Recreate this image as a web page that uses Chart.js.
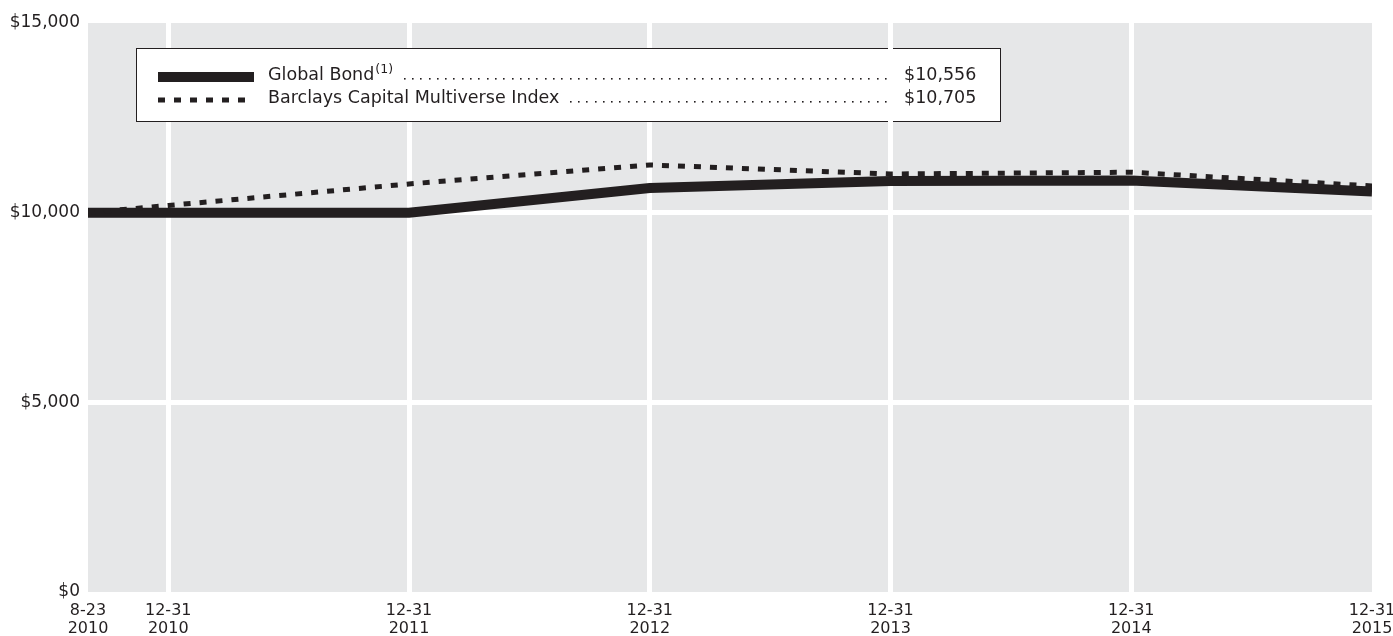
<!DOCTYPE html>
<html>
<head>
<meta charset="utf-8">
<script src="https://cdn.jsdelivr.net/npm/chart.js@4/dist/chart.umd.min.js"></script>
<style>
  html, body { margin: 0; padding: 0; background: #fff; }
  #wrap { width: 1393px; height: 636px; }
</style>
</head>
<body>
<div id="wrap"><canvas id="growth" width="1393" height="636"></canvas></div>
<script>
// x positions are months counted from August 2010
const monthOffsets = [0, 4, 16, 28, 40, 52, 64];
const tickLabels = [
  ["8-23", "2010"],
  ["12-31", "2010"],
  ["12-31", "2011"],
  ["12-31", "2012"],
  ["12-31", "2013"],
  ["12-31", "2014"],
  ["12-31", "2015"],
];

// growth of a $10,000 investment
const globalBond = [10000, 10000, 10000, 10651, 10835, 10845, 10556];
const barclaysMultiverse = [10000, 10190, 10757, 11258, 11020, 11065, 10705];

const seriesNames = ["Global Bond", "Barclays Capital Multiverse Index"];
const yTicks = [0, 5000, 10000, 15000];

const INK = "#231f20";
const PLOT_BG = "#e6e7e8";
const FONT = "DejaVu Sans";

const money = (v) => "$" + Number(v).toLocaleString("en-US");
const points = (values) => values.map((y, i) => ({ x: monthOffsets[i], y }));

// hide the grid lines that sit on the plot edges
const innerGrid = (last) => (ctx) =>
  ctx.index === 0 || ctx.index === last ? "rgba(0,0,0,0)" : "#ffffff";

const plotBackground = {
  id: "plotBackground",
  beforeDraw(chart) {
    const { ctx, chartArea: a } = chart;
    ctx.save();
    ctx.fillStyle = PLOT_BG;
    ctx.fillRect(a.left, a.top, a.right - a.left, a.bottom - a.top);
    ctx.restore();
  },
};

// boxed key with dot leaders and ending values
const valueKey = {
  id: "valueKey",
  afterDraw(chart) {
    const ctx = chart.ctx;
    const box = { left: 136.5, top: 48.5, right: 1000.5, bottom: 121.5 };
    const rows = [
      { name: seriesNames[0], sup: "(1)", values: globalBond, width: 10, dash: [], lineY: 77, baseY: 80 },
      { name: seriesNames[1], sup: "", values: barclaysMultiverse, width: 5, dash: [7, 9], lineY: 100, baseY: 103 },
    ];

    ctx.save();
    ctx.fillStyle = "#ffffff";
    ctx.fillRect(box.left, box.top, box.right - box.left, box.bottom - box.top);
    ctx.strokeStyle = INK;
    ctx.lineWidth = 1;
    ctx.strokeRect(box.left, box.top, box.right - box.left, box.bottom - box.top);

    rows.forEach((r) => {
      // sample line
      ctx.strokeStyle = INK;
      ctx.lineWidth = r.width;
      ctx.lineCap = "butt";
      ctx.setLineDash(r.dash);
      ctx.beginPath();
      ctx.moveTo(158, r.lineY);
      ctx.lineTo(254, r.lineY);
      ctx.stroke();
      ctx.setLineDash([]);

      // name
      ctx.fillStyle = INK;
      ctx.textBaseline = "alphabetic";
      ctx.textAlign = "left";
      ctx.font = `17.5px "${FONT}"`;
      ctx.fillText(r.name, 268, r.baseY);
      let end = 268 + ctx.measureText(r.name).width;
      if (r.sup) {
        ctx.font = `12.5px "${FONT}"`;
        ctx.fillText(r.sup, end + 1, r.baseY - 7);
        end += 1 + ctx.measureText(r.sup).width;
      }

      // dot leaders, spaced back from the value column
      for (let x = 886; x > end + 5; x -= 8.3) {
        ctx.fillRect(Math.round(x) - 1, r.baseY - 2, 1.6, 1.6);
      }

      // ending value
      ctx.font = `17.5px "${FONT}"`;
      ctx.fillText(money(r.values[r.values.length - 1]), 904, r.baseY);
    });

    // the 2013 grid line runs across the key
    const gx = chart.scales.x.getPixelForValue(monthOffsets[4]);
    ctx.strokeStyle = "#ffffff";
    ctx.lineWidth = 5;
    ctx.beginPath();
    ctx.moveTo(gx, box.top - 1);
    ctx.lineTo(gx, box.bottom + 1);
    ctx.stroke();
    ctx.restore();
  },
};

new Chart(document.getElementById("growth"), {
  type: "line",
  data: {
    datasets: [
      {
        label: seriesNames[1],
        data: points(barclaysMultiverse),
        borderColor: INK,
        borderWidth: 5,
        borderDash: [7, 9],
        pointRadius: 0,
        tension: 0,
      },
      {
        label: seriesNames[0],
        data: points(globalBond),
        borderColor: INK,
        borderWidth: 10,
        pointRadius: 0,
        tension: 0,
      },
    ],
  },
  options: {
    responsive: false,
    animation: false,
    devicePixelRatio: 1,
    layout: { padding: { top: 23, right: 21, bottom: 0, left: 0 } },
    plugins: {
      legend: { display: false },
      tooltip: { enabled: false },
    },
    scales: {
      x: {
        type: "linear",
        min: monthOffsets[0],
        max: monthOffsets[monthOffsets.length - 1],
        afterBuildTicks: (scale) => {
          scale.ticks = monthOffsets.map((value) => ({ value }));
        },
        afterFit: (scale) => {
          scale.height = 44;
          scale.paddingLeft = 0;
          scale.paddingRight = 0;
        },
        border: { display: false },
        grid: { color: innerGrid(monthOffsets.length - 1), lineWidth: 5, drawTicks: false },
        ticks: {
          autoSkip: false,
          maxRotation: 0,
          padding: 10,
          color: INK,
          font: { family: FONT, size: 16, lineHeight: "18px" },
          callback: (value) => tickLabels[monthOffsets.indexOf(value)] || "",
        },
      },
      y: {
        min: yTicks[0],
        max: yTicks[yTicks.length - 1],
        afterBuildTicks: (scale) => {
          scale.ticks = yTicks.map((value) => ({ value }));
        },
        afterFit: (scale) => {
          scale.width = 88;
        },
        border: { display: false },
        grid: { color: innerGrid(yTicks.length - 1), lineWidth: 5, drawTicks: false },
        ticks: {
          padding: 8,
          color: INK,
          font: { family: FONT, size: 17 },
          callback: (value) => money(value),
        },
      },
    },
  },
  plugins: [plotBackground, valueKey],
});
</script>
</body>
</html>
